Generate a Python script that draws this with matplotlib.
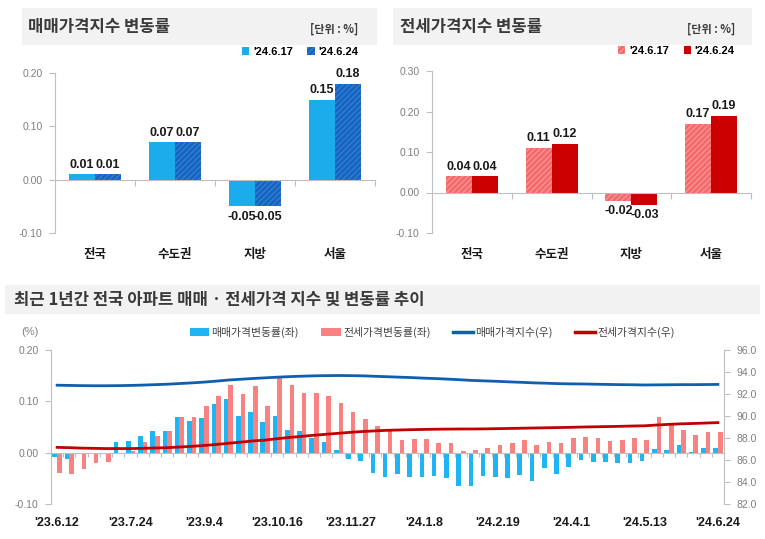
import matplotlib
matplotlib.use('Agg')
import matplotlib.pyplot as plt
import numpy as np
import pandas as pd
from matplotlib import font_manager as fm
from matplotlib.patches import Rectangle, Patch
from matplotlib.lines import Line2D

# ---------------- data ----------------
regions = ['전국', '수도권', '지방', '서울']
week_labels = ["'24.6.17", "'24.6.24"]
sale_prev = [0.01, 0.07, -0.05, 0.15]
sale_curr = [0.01, 0.07, -0.05, 0.18]
jeonse_prev = [0.04, 0.11, -0.02, 0.17]
jeonse_curr = [0.04, 0.12, -0.03, 0.19]

weeks = pd.date_range('2023-06-12', '2024-06-24', freq='7D')
sale_rate = [-0.008, -0.013, 0.000, 0.000, 0.000, 0.021, 0.022, 0.032, 0.042, 0.043,
             0.069, 0.061, 0.067, 0.095, 0.104, 0.071, 0.079, 0.059, 0.071, 0.045,
             0.042, 0.029, 0.021, 0.005, -0.013, -0.016, -0.040, -0.047, -0.041, -0.048,
             -0.047, -0.045, -0.050, -0.065, -0.064, -0.045, -0.047, -0.050, -0.044, -0.055,
             -0.030, -0.042, -0.028, -0.014, -0.019, -0.019, -0.021, -0.020, -0.017, 0.008,
             0.006, 0.014, 0.001, 0.010, 0.010]
jeonse_rate = [-0.039, -0.042, -0.031, -0.021, -0.019, 0.000, 0.004, 0.021, 0.032, 0.043,
               0.070, 0.069, 0.090, 0.110, 0.132, 0.114, 0.129, 0.091, 0.149, 0.132,
               0.116, 0.116, 0.110, 0.097, 0.079, 0.066, 0.052, 0.047, 0.025, 0.027,
               0.027, 0.018, 0.019, 0.004, 0.005, 0.009, 0.015, 0.019, 0.025, 0.015,
               0.021, 0.018, 0.028, 0.031, 0.029, 0.022, 0.024, 0.029, 0.025, 0.070,
               0.054, 0.044, 0.034, 0.040, 0.040]
sale_index = [92.80, 92.78, 92.76, 92.75, 92.75, 92.76, 92.78, 92.81, 92.85, 92.89,
              92.95, 93.01, 93.08, 93.17, 93.27, 93.34, 93.41, 93.47, 93.53, 93.58,
              93.62, 93.65, 93.67, 93.68, 93.67, 93.65, 93.61, 93.57, 93.53, 93.49,
              93.44, 93.40, 93.35, 93.29, 93.23, 93.19, 93.15, 93.10, 93.06, 93.01,
              92.98, 92.94, 92.92, 92.91, 92.89, 92.87, 92.85, 92.84, 92.82, 92.83,
              92.84, 92.85, 92.85, 92.86, 92.87]
jeonse_index = [87.15, 87.12, 87.08, 87.06, 87.04, 87.04, 87.04, 87.06, 87.09, 87.12,
                87.18, 87.24, 87.32, 87.41, 87.52, 87.62, 87.73, 87.81, 87.94, 88.05,
                88.15, 88.25, 88.34, 88.43, 88.52, 88.59, 88.65, 88.70, 88.73, 88.76,
                88.78, 88.80, 88.81, 88.82, 88.82, 88.83, 88.85, 88.87, 88.89, 88.91,
                88.93, 88.95, 88.97, 89.00, 89.02, 89.04, 89.06, 89.09, 89.11, 89.18,
                89.24, 89.29, 89.32, 89.36, 89.40]
series_names = ['매매가격변동률(좌)', '전세가격변동률(좌)', '매매가격지수(우)', '전세가격지수(우)']

# ---------------- fonts ----------------
KR = 'Noto Sans CJK KR'
names = {f.name for f in fm.fontManager.ttflist}
if 'Liberation Sans Narrow' in names:
    VAL_FONT = dict(family='Liberation Sans Narrow', fontsize=10.5)
else:
    VAL_FONT = dict(family='Liberation Sans', fontsize=9)
plt.rcParams['font.family'] = ['Liberation Sans', KR, 'DejaVu Sans']
plt.rcParams['hatch.linewidth'] = 0.8

GRAY = '#bfbfbf'
TICKC = '#7f7f7f'
W, H = 765, 539

fig = plt.figure(figsize=(W / 100, H / 100), dpi=100)


def fx(px):
    return px / W


def fy(py):
    return 1 - py / H


# gray title bands
for (x0, y0, x1, y1) in [(22, 8, 377, 45), (393, 8, 752, 45), (5, 285, 760, 314)]:
    fig.add_artist(Rectangle((fx(x0), fy(y1)), fx(x1 - x0), (y1 - y0) / H,
                             transform=fig.transFigure, facecolor='#f2f2f2',
                             edgecolor='none', zorder=0))

fig.text(fx(28), fy(27), '매매가격지수 변동률', family=KR, fontweight='bold',
         fontsize=12, color='#3a3a3a', va='center', ha='left')
fig.text(fx(358), fy(29), '[단위 : %]', family=KR, fontweight='bold',
         fontsize=8, color='#3a3a3a', va='center', ha='right')
fig.text(fx(400), fy(27), '전세가격지수 변동률', family=KR, fontweight='bold',
         fontsize=12, color='#3a3a3a', va='center', ha='left')
fig.text(fx(735), fy(29), '[단위 : %]', family=KR, fontweight='bold',
         fontsize=8, color='#3a3a3a', va='center', ha='right')
fig.text(fx(14), fy(300), '최근 1년간 전국 아파트 매매 · 전세가격 지수 및 변동률 추이',
         family=KR, fontweight='bold', fontsize=12, color='#3a3a3a',
         va='center', ha='left')


def top_panel(rect, v1, v2, style1, style2, ylim, yticks, leg_anchor):
    ax = fig.add_axes(rect)
    x = np.arange(len(regions))
    w = 0.325
    bars1 = ax.bar(x - w / 2, v1, w, **style1, linewidth=0, zorder=2)
    bars2 = ax.bar(x + w / 2, v2, w, **style2, linewidth=0, zorder=2)
    for bars, vals in ((bars1, v1), (bars2, v2)):
        for b, v in zip(bars, vals):
            ax.annotate(f'{v:.2f}', (b.get_x() + b.get_width() / 2, v),
                        xytext=(0, 2.5 if v >= 0 else -3), textcoords='offset points',
                        ha='center', va='bottom' if v >= 0 else 'top',
                        fontweight='bold', color='#1a1a1a', **VAL_FONT)
    ax.set_xlim(-0.5, len(regions) - 0.5)
    ax.set_ylim(*ylim)
    ax.set_yticks(yticks)
    ax.yaxis.set_major_formatter(matplotlib.ticker.FormatStrFormatter('%.2f'))
    for s in ('top', 'right'):
        ax.spines[s].set_visible(False)
    ax.spines['bottom'].set_position(('data', 0))
    ax.spines['bottom'].set_color(GRAY)
    ax.spines['left'].set_color(GRAY)
    ax.set_xticks(np.arange(0.5, len(regions), 1))
    ax.set_xticklabels([])
    ax.tick_params(axis='x', length=4, color=GRAY, direction='out')
    ax.tick_params(axis='y', length=4, color=GRAY, labelcolor=TICKC, labelsize=7.5, pad=5)
    sec = ax.secondary_xaxis('bottom')
    sec.set_xticks(x)
    sec.set_xticklabels(regions, family=KR, fontweight='bold', fontsize=9, color='#1a1a1a')
    sec.tick_params(length=0, pad=11)
    sec.spines['bottom'].set_visible(False)
    handles = [Patch(**style1, linewidth=0), Patch(**style2, linewidth=0)]
    ax.legend(handles, week_labels, loc='lower right', bbox_to_anchor=leg_anchor,
              ncol=2, frameon=False, handlelength=0.65, handleheight=0.75,
              handletextpad=0.35, columnspacing=1.3,
              prop={'family': 'Liberation Sans', 'weight': 'bold', 'size': 8})
    return ax


top_panel([fx(55), fy(233), fx(320), 160 / H], sale_prev, sale_curr,
          dict(facecolor='#1aaceb'),
          dict(facecolor='#1565c0', edgecolor='#3a80d4', hatch='//////'),
          (-0.10, 0.20), [-0.10, 0.0, 0.10, 0.20], (0.98, 1.04))
top_panel([fx(432), fy(233), fx(319), 162 / H], jeonse_prev, jeonse_curr,
          dict(facecolor='#f46a6a', edgecolor='#f89a9a', hatch='//////'),
          dict(facecolor='#cc0000'),
          (-0.10, 0.30), [-0.10, 0.0, 0.10, 0.20, 0.30], (0.98, 1.03))

# ---------------- bottom combo chart ----------------
ax = fig.add_axes([fx(51), fy(504), fx(673), 154 / H])
n = len(weeks)
x = np.arange(n)
bw = 0.38
ax.bar(x - bw / 2, sale_rate, bw, color='#1fb4f2', linewidth=0, zorder=2)
ax.bar(x + bw / 2, jeonse_rate, bw, color='#f88282', linewidth=0, zorder=2)
ax.set_xlim(-0.5, n - 0.5)
ax.set_ylim(-0.10, 0.20)
ax.set_yticks([-0.10, 0.0, 0.10, 0.20])
ax.yaxis.set_major_formatter(matplotlib.ticker.FormatStrFormatter('%.2f'))
for s in ('top', 'right'):
    ax.spines[s].set_visible(False)
ax.spines['bottom'].set_position(('data', 0))
ax.spines['bottom'].set_color(GRAY)
ax.spines['left'].set_color(GRAY)
ax.set_xticks(np.arange(0.5, n - 0.5, 1))
ax.set_xticklabels([])
ax.tick_params(axis='x', length=3, color=GRAY, direction='out')
ax.tick_params(axis='y', length=4, color=GRAY, labelcolor=TICKC, labelsize=7.5, pad=5)
sec = ax.secondary_xaxis('bottom')
tick_idx = list(range(0, n, 6))
sec.set_xticks(tick_idx)
sec.set_xticklabels([f"'{weeks[i]:%y}.{weeks[i].month}.{weeks[i].day}" for i in tick_idx],
                    fontweight='bold', fontsize=9, color='#1a1a1a')
sec.tick_params(length=0, pad=9)
sec.spines['bottom'].set_visible(False)

ax2 = ax.twinx()
ax2.plot(x, sale_index, color='#0f5fae', linewidth=2.0, zorder=3)
ax2.plot(x, jeonse_index, color='#c00000', linewidth=2.0, zorder=3)
ax2.set_ylim(82, 96)
ax2.set_yticks(np.arange(82, 96.1, 2))
ax2.yaxis.set_major_formatter(matplotlib.ticker.FormatStrFormatter('%.1f'))
for s in ('top', 'left', 'bottom'):
    ax2.spines[s].set_visible(False)
ax2.spines['right'].set_color(GRAY)
ax2.tick_params(axis='y', length=4, color=GRAY, labelcolor=TICKC, labelsize=7.5, pad=5)

fig.text(fx(21), fy(332), '(%)', fontsize=8, color=TICKC, va='center', ha='left')
handles = [Patch(facecolor='#1fb4f2', linewidth=0), Patch(facecolor='#f88282', linewidth=0),
           Line2D([], [], color='#0f5fae', linewidth=2.5),
           Line2D([], [], color='#c00000', linewidth=2.5)]
fig.legend(handles, series_names, loc='center', bbox_to_anchor=(fx(432), fy(332)),
           ncol=4, frameon=False, handlelength=1.8, handleheight=0.75,
           handletextpad=0.2, columnspacing=2.1,
           prop={'family': KR, 'size': 7.8})
for t in fig.legends[0].get_texts():
    t.set_color('#404040')

fig.savefig('out.png', dpi=100)
